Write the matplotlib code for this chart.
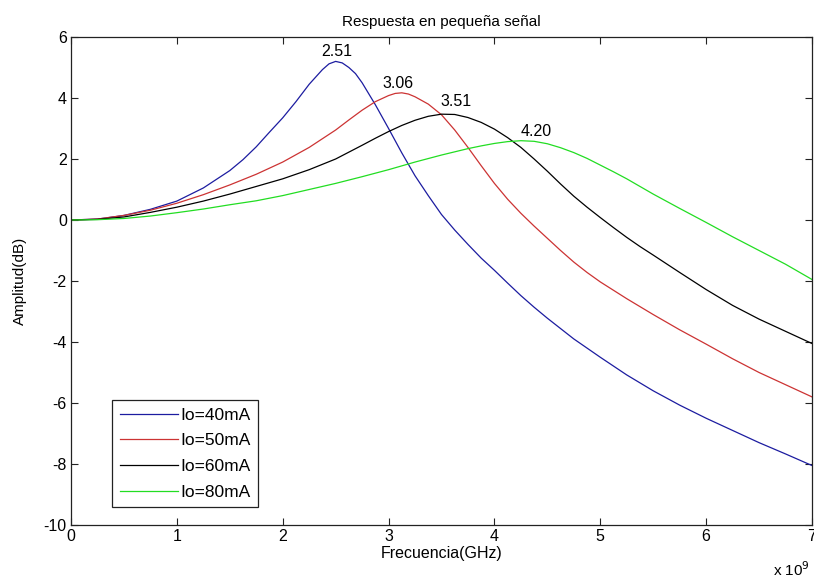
import matplotlib
matplotlib.use("Agg")
import matplotlib.pyplot as plt

plt.rcParams['font.family'] = ['Liberation Sans', 'DejaVu Sans']

# Frequencies in GHz (axis multiplier x 10^9)
f_40 = [0, 0.25, 0.5, 0.75, 1.0, 1.25, 1.5, 1.625, 1.75, 1.875, 2.0, 2.125, 2.25, 2.375,
        2.4375, 2.5, 2.5625, 2.625, 2.6875, 2.75, 2.875, 3.0, 3.125, 3.25, 3.375, 3.5,
        3.625, 3.75, 3.875, 4.0, 4.125, 4.25, 4.375, 4.5, 4.75, 5.0, 5.25, 5.5, 5.75,
        6.0, 6.25, 6.5, 6.75, 7.0]
a_40 = [0, 0.03, 0.15, 0.35, 0.62, 1.05, 1.62, 1.98, 2.4, 2.88, 3.35, 3.88, 4.45, 4.93,
        5.12, 5.2, 5.15, 5.0, 4.8, 4.5, 3.78, 3.0, 2.2, 1.45, 0.8, 0.18, -0.33, -0.8,
        -1.25, -1.65, -2.07, -2.48, -2.86, -3.22, -3.9, -4.5, -5.08, -5.6, -6.07, -6.5,
        -6.9, -7.3, -7.67, -8.05]

f_50 = [0, 0.25, 0.5, 0.75, 1.0, 1.25, 1.5, 1.75, 2.0, 2.25, 2.5, 2.625, 2.75, 2.875,
        3.0, 3.0625, 3.125, 3.1875, 3.25, 3.375, 3.5, 3.625, 3.75, 3.875, 4.0, 4.125,
        4.25, 4.375, 4.5, 4.625, 4.75, 4.875, 5.0, 5.25, 5.5, 5.75, 6.0, 6.25, 6.5,
        6.75, 7.0]
a_50 = [0, 0.03, 0.15, 0.32, 0.55, 0.83, 1.15, 1.5, 1.9, 2.38, 2.95, 3.28, 3.6, 3.88,
        4.08, 4.15, 4.17, 4.13, 4.04, 3.8, 3.45, 2.95, 2.38, 1.78, 1.2, 0.68, 0.22,
        -0.2, -0.6, -1.0, -1.38, -1.72, -2.03, -2.58, -3.1, -3.6, -4.07, -4.55, -5.0,
        -5.4, -5.8]

f_60 = [0, 0.25, 0.5, 0.75, 1.0, 1.25, 1.5, 1.75, 2.0, 2.25, 2.5, 2.75, 2.875, 3.0,
        3.125, 3.25, 3.375, 3.5, 3.625, 3.75, 3.875, 4.0, 4.125, 4.25, 4.375, 4.5,
        4.625, 4.75, 4.875, 5.0, 5.125, 5.25, 5.375, 5.5, 5.75, 6.0, 6.25, 6.5, 6.75, 7.0]
a_60 = [0, 0.02, 0.1, 0.25, 0.42, 0.62, 0.85, 1.1, 1.35, 1.65, 2.0, 2.45, 2.68, 2.9,
        3.1, 3.27, 3.4, 3.47, 3.46, 3.36, 3.2, 2.98, 2.7, 2.38, 2.0, 1.6, 1.18, 0.78,
        0.42, 0.08, -0.25, -0.57, -0.87, -1.15, -1.72, -2.28, -2.8, -3.25, -3.65, -4.05]

f_80 = [0, 0.25, 0.5, 0.75, 1.0, 1.25, 1.5, 1.75, 2.0, 2.25, 2.5, 2.75, 3.0, 3.25,
        3.5, 3.75, 3.875, 4.0, 4.125, 4.25, 4.375, 4.5, 4.625, 4.75, 4.875, 5.0, 5.125,
        5.25, 5.375, 5.5, 5.75, 6.0, 6.25, 6.5, 6.75, 7.0]
a_80 = [0, 0.01, 0.05, 0.13, 0.24, 0.36, 0.5, 0.63, 0.8, 1.0, 1.2, 1.42, 1.65, 1.9,
        2.13, 2.34, 2.43, 2.51, 2.57, 2.6, 2.58, 2.5, 2.37, 2.21, 2.02, 1.8, 1.58,
        1.35, 1.1, 0.85, 0.38, -0.08, -0.55, -1.0, -1.45, -1.95]

labels = ['Io=40mA', 'Io=50mA', 'Io=60mA', 'Io=80mA']
colors = ['#1c1ca0', '#cc3333', '#000000', '#22dd22']

peak_text = ['2.51', '3.06', '3.51', '4.20']
peak_text_x = [2.51, 3.09, 3.64, 4.39]
peak_text_y = [5.52, 4.48, 3.89, 2.90]

x_ticks = [0, 1, 2, 3, 4, 5, 6, 7]
y_ticks = [-10, -8, -6, -4, -2, 0, 2, 4, 6]

fig = plt.figure(figsize=(8.14, 5.82), dpi=100)
ax = fig.add_axes([71/814, 57/582, 741/814, 488/582])

series = [(f_40, a_40), (f_50, a_50), (f_60, a_60), (f_80, a_80)]
for (fx, ay), lab, c in zip(series, labels, colors):
    ax.plot(fx, ay, color=c, lw=0.9, label=lab)

for t, tx, ty in zip(peak_text, peak_text_x, peak_text_y):
    ax.text(tx, ty, t, ha='center', va='center', fontsize=11.5)

ax.set_xlim(0, 7)
ax.set_ylim(-10, 6)
ax.set_xticks(x_ticks)
ax.set_yticks(y_ticks)
ax.set_xticklabels([str(v) for v in x_ticks])
ax.set_yticklabels([str(v) for v in y_ticks])
ax.tick_params(direction='in', top=True, right=True, length=5, width=0.8,
               labelsize=11.5, pad=3, color='#222222')
for s in ax.spines.values():
    s.set_linewidth(0.9)
    s.set_color('#222222')

ax.set_title('Respuesta en pequeña señal', fontsize=11, pad=8)
ax.set_xlabel('Frecuencia(GHz)', fontsize=11.5, labelpad=1)
ax.set_ylabel('Amplitud(dB)', fontsize=11, labelpad=12)

fig.text(810/814, 3/582, 'x 10$^{9}$', ha='right', va='bottom', fontsize=11)

leg = ax.legend(loc='lower left', bbox_to_anchor=(0.056, 0.036), fontsize=12.5,
                handlelength=3.3, handletextpad=0.15, borderpad=0.45,
                labelspacing=0.6, fancybox=False, framealpha=1,
                edgecolor='#222222', borderaxespad=0)
leg.get_frame().set_linewidth(0.9)

fig.savefig('out.png', dpi=100)
